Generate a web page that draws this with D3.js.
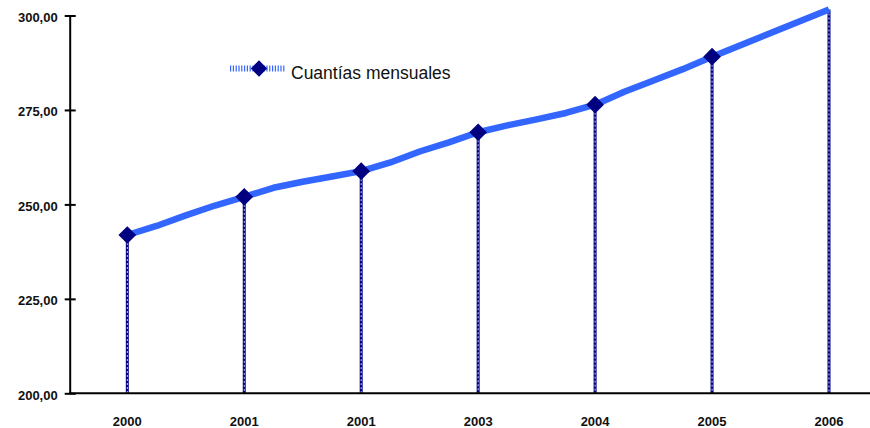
<!DOCTYPE html>
<html>
<head>
<meta charset="utf-8">
<script src="https://cdn.jsdelivr.net/npm/d3@7"></script>
<style>
  body { margin: 0; background: #fff; }
  svg { display: block; }
  .y-axis text, .x-axis text { font-family: "Liberation Sans", Arial, sans-serif; font-weight: bold; font-size: 13px; fill: #111; }
  .legend text { font-family: "Liberation Sans", Arial, sans-serif; font-size: 17.5px; fill: #111; }
</style>
</head>
<body>
<div id="graph"></div>
<script>
// yearly values (marker points), x labels as printed in the chart
var years = ["2000", "2001", "2001", "2003", "2004", "2005", "2006"];
var yearValues = [241.9, 252.0, 258.8, 269.1, 276.4, 289.1, 301.6];
// readings of the line between markers (position in year index, value)
var lineIndex = [0, 0.25, 0.5, 0.75, 1, 1.25, 1.5, 1.75, 2, 2.25, 2.5, 2.75, 3, 3.25, 3.5, 3.75, 4, 4.25, 4.5, 4.75, 5, 6];
var lineValues = [241.9, 244.3, 247.1, 249.7, 252.0, 254.4, 256.0, 257.4, 258.8, 261.1, 264.0, 266.4, 269.1, 270.9, 272.5, 274.2, 276.4, 279.8, 282.8, 285.8, 289.1, 301.6];
var yTicks = [200, 225, 250, 275, 300];
var seriesName = "Cuantías mensuales";

var width = 870, height = 428;
var xScale, yScale, svg;

var esFormat = d3.formatLocale({decimal: ",", thousands: ".", grouping: [3], currency: ["", " €"]}).format(".2f");

function setup_graph() {
    svg = d3.select("#graph")
        .append("svg")
        .attr("width", width)
        .attr("height", height);

    xScale = d3.scaleLinear().domain([0, 6]).range([127.3, 829]);
    yScale = d3.scaleLinear().domain([200, 300]).range([393.3, 15.5]);
}

function build_axes() {
    var yAxis = d3.axisLeft(yScale)
        .tickValues(yTicks)
        .tickFormat(esFormat)
        .tickSizeInner(5)
        .tickSizeOuter(0)
        .tickPadding(7);
    var gy = svg.append("g")
        .attr("class", "y-axis")
        .attr("transform", "translate(69.7,0)")
        .call(yAxis);
    gy.select(".domain").attr("stroke", "#000").attr("stroke-width", 2);
    gy.selectAll(".tick line").attr("x1", -5).attr("x2", 6).attr("stroke", "#000").attr("stroke-width", 2);
    gy.selectAll(".tick text").attr("dy", "0.75em").attr("y", -4);

    var gx = svg.append("g")
        .attr("class", "x-axis")
        .attr("transform", "translate(0," + yScale(200) + ")");
    gx.append("line")
        .attr("x1", 69).attr("x2", width)
        .attr("stroke", "#000").attr("stroke-width", 2);
    gx.selectAll("text")
        .data(years)
        .enter()
        .append("text")
        .attr("x", (d, i) => xScale(i))
        .attr("y", 33)
        .attr("text-anchor", "middle")
        .text(d => d);
}

function build_droplines() {
    var drops = svg.append("g").attr("class", "drops");
    drops.selectAll("line.dark")
        .data(yearValues)
        .enter()
        .append("line")
        .attr("class", "dark")
        .attr("x1", (d, i) => xScale(i)).attr("x2", (d, i) => xScale(i))
        .attr("y1", d => yScale(d)).attr("y2", yScale(200))
        .attr("stroke", "#000080").attr("stroke-width", 3);
    drops.selectAll("line.light")
        .data(yearValues)
        .enter()
        .append("line")
        .attr("class", "light")
        .attr("x1", (d, i) => xScale(i)).attr("x2", (d, i) => xScale(i))
        .attr("y1", d => yScale(d)).attr("y2", yScale(200))
        .attr("stroke", "#c8c8ff").attr("stroke-width", 1)
        .attr("stroke-dasharray", "2,2");
}

function build_line() {
    var pts = lineIndex.map((x, i) => [x, lineValues[i]]);
    var line = d3.line()
        .x(d => xScale(d[0]))
        .y(d => yScale(d[1]));
    svg.append("path")
        .datum(pts)
        .attr("d", line)
        .attr("fill", "none")
        .attr("stroke", "#3366ff")
        .attr("stroke-width", 6.5)
        .attr("stroke-linejoin", "round");

    var diamond = d3.symbol().type(d3.symbolDiamond2).size(200);
    svg.selectAll("path.marker")
        .data(yearValues.slice(0, 6))
        .enter()
        .append("path")
        .attr("class", "marker")
        .attr("d", diamond)
        .attr("fill", "#000080")
        .attr("transform", (d, i) => "translate(" + xScale(i) + "," + yScale(d) + ")");
}

function build_legend() {
    var lg = svg.append("g").attr("class", "legend");
    lg.append("line")
        .attr("x1", 230).attr("x2", 286)
        .attr("y1", 68.5).attr("y2", 68.5)
        .attr("stroke", "#3366ff").attr("stroke-width", 6)
        .attr("stroke-dasharray", "1.2,1.6");
    lg.append("path")
        .attr("d", d3.symbol().type(d3.symbolDiamond2).size(170))
        .attr("fill", "#000080")
        .attr("transform", "translate(259,68.5)");
    lg.append("text")
        .attr("x", 291)
        .attr("y", 79)
        .text(seriesName);
}

function initialize() {
    setup_graph();
    build_droplines();
    build_axes();
    build_line();
    build_legend();
}

initialize();
</script>
</body>
</html>
